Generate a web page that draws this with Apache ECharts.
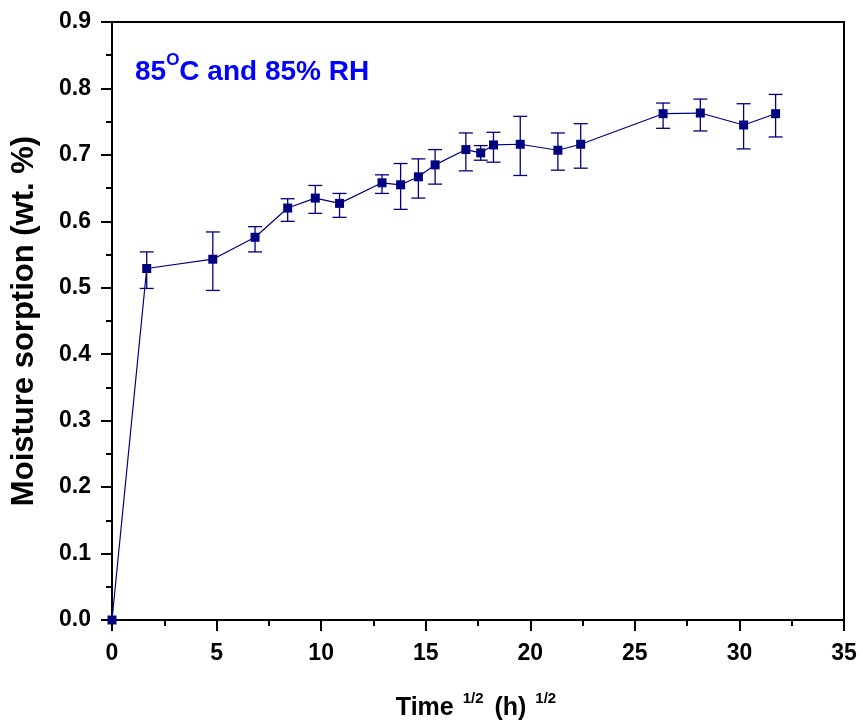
<!DOCTYPE html>
<html>
<head>
<meta charset="utf-8">
<script src="https://cdn.jsdelivr.net/npm/echarts@6/dist/echarts.min.js"></script>
<style>
  html, body { margin: 0; padding: 0; background: #fff; }
  #chart { width: 863px; height: 726px; }
</style>
</head>
<body>
<div id="chart"></div>
<script>
// sqrt(time) in h^1/2
let timeSqrt = [0, 1.66, 4.82, 6.84, 8.40, 9.72, 10.88, 12.91, 13.80, 14.65, 15.45, 16.92, 17.63, 18.24, 19.52, 21.32, 22.41, 26.35, 28.13, 30.20, 31.73];
// moisture sorption, wt. %
let sorption = [0, 0.529, 0.543, 0.576, 0.620, 0.635, 0.627, 0.658, 0.655, 0.667, 0.685, 0.708, 0.703, 0.715, 0.716, 0.707, 0.716, 0.762, 0.763, 0.745, 0.762];
// error bar ends
let errHigh = [0, 0.554, 0.584, 0.592, 0.634, 0.654, 0.642, 0.670, 0.687, 0.694, 0.708, 0.733, 0.714, 0.734, 0.758, 0.733, 0.747, 0.778, 0.784, 0.777, 0.791];
let errLow = [0, 0.499, 0.496, 0.554, 0.600, 0.612, 0.606, 0.642, 0.618, 0.635, 0.656, 0.676, 0.692, 0.689, 0.669, 0.677, 0.680, 0.740, 0.736, 0.709, 0.727];

let xTicks = [0, 5, 10, 15, 20, 25, 30, 35];
let yTicks = [0, 0.1, 0.2, 0.3, 0.4, 0.5, 0.6, 0.7, 0.8, 0.9];

const navy = '#000080';
const font = 'Liberation Sans, Arial, sans-serif';

let points = timeSqrt.map((t, i) => [t, sorption[i]]);
let bars = timeSqrt.map((t, i) => [t, errLow[i], errHigh[i]]);

let chart = echarts.init(document.getElementById('chart'));

let conf = {
    animation: false,
    grid: {
        left: 112,
        right: 19,
        top: 22,
        bottom: 106,
        show: true,
        borderColor: '#000',
        borderWidth: 2
    },
    xAxis: {
        type: 'value',
        min: xTicks[0],
        max: xTicks[xTicks.length - 1],
        interval: 5,
        name: '{a|Time }{s|1/2}{a| (h) }{s|1/2}',
        nameLocation: 'middle',
        nameGap: 71,
        nameTextStyle: {
            rich: {
                a: { fontFamily: font, fontWeight: 'bold', fontSize: 25, color: '#000', lineHeight: 30, verticalAlign: 'bottom' },
                s: { fontFamily: font, fontWeight: 'bold', fontSize: 15, color: '#000', lineHeight: 30, verticalAlign: 'top', padding: [0, 4, 14, 2] }
            }
        },
        axisLine: { lineStyle: { color: '#000', width: 2 } },
        axisTick: { inside: false, length: 11, lineStyle: { width: 2, color: '#000' } },
        minorTick: { show: true, splitNumber: 2, length: 6, lineStyle: { width: 2, color: '#000' } },
        splitLine: { show: false },
        axisLabel: { margin: 22, fontFamily: font, fontWeight: 'bold', fontSize: 23, color: '#000' }
    },
    yAxis: {
        type: 'value',
        min: yTicks[0],
        max: yTicks[yTicks.length - 1],
        interval: 0.1,
        name: 'Moisture sorption (wt. %)',
        nameLocation: 'middle',
        nameGap: 72,
        nameTextStyle: { fontFamily: font, fontWeight: 'bold', fontSize: 31, color: '#000' },
        axisLine: { lineStyle: { color: '#000', width: 2 } },
        axisTick: { inside: false, length: 11, lineStyle: { width: 2, color: '#000' } },
        minorTick: { show: true, splitNumber: 2, length: 6, lineStyle: { width: 2, color: '#000' } },
        splitLine: { show: false },
        axisLabel: {
            margin: 21,
            fontFamily: font, fontWeight: 'bold', fontSize: 23, color: '#000',
            formatter: v => v.toFixed(1)
        }
    },
    graphic: [{
        type: 'text',
        left: 135,
        top: 52,
        style: {
            rich: {
                a: { fontFamily: font, fontWeight: 'bold', fontSize: 28, fill: '#0000ff', lineHeight: 34, verticalAlign: 'bottom' },
                s: { fontFamily: font, fontWeight: 'bold', fontSize: 17, fill: '#0000ff', lineHeight: 34, verticalAlign: 'top', padding: [0, 0, 14, 0] }
            },
            text: '{a|85}{s|O}{a|C and 85% RH}'
        }
    }],
    series: [
        {
            name: 'Error',
            type: 'custom',
            data: bars,
            clip: false,
            z: 2,
            renderItem: (params, api) => {
                let x = api.value(0);
                let lo = api.value(1);
                let hi = api.value(2);
                if (hi === lo) return null;
                let top = api.coord([x, hi]);
                let bot = api.coord([x, lo]);
                let half = 7;
                let style = { stroke: navy, lineWidth: 1.3 };
                return {
                    type: 'group',
                    children: [
                        { type: 'line', shape: { x1: top[0], y1: top[1], x2: bot[0], y2: bot[1] }, style: style },
                        { type: 'line', shape: { x1: top[0] - half, y1: top[1], x2: top[0] + half, y2: top[1] }, style: style },
                        { type: 'line', shape: { x1: bot[0] - half, y1: bot[1], x2: bot[0] + half, y2: bot[1] }, style: style }
                    ]
                };
            }
        },
        {
            name: 'Moisture sorption',
            type: 'line',
            data: points,
            z: 3,
            symbol: 'rect',
            symbolSize: 9,
            showAllSymbol: true,
            lineStyle: { color: navy, width: 1.2 },
            itemStyle: { color: navy, borderWidth: 0 }
        }
    ]
};

chart.setOption(conf);

var resizeListener = void 0;
window.addEventListener('resize', function () {
    clearTimeout(resizeListener);
    resizeListener = setTimeout(() => chart.resize(), 300);
});
</script>
</body>
</html>
